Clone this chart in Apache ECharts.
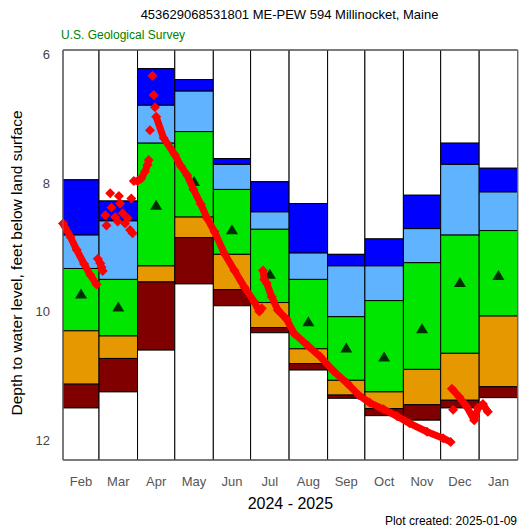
<!DOCTYPE html>
<html><head><meta charset="utf-8">
<script src="https://cdn.jsdelivr.net/npm/echarts/dist/echarts.min.js"></script>
<style>html,body{margin:0;padding:0;background:#fff}#c{width:519px;height:531px}</style>
</head><body><div id="c"></div><script>
// ---- data (depth to water level, feet below land surface) ----
const months     = ['Feb','Mar','Apr','May','Jun','Jul','Aug','Sep','Oct','Nov','Dec','Jan'];
const monthStart = ['2024-02-01','2024-03-01','2024-04-01','2024-05-01','2024-06-01','2024-07-01','2024-08-01','2024-09-01','2024-10-01','2024-11-01','2024-12-01','2025-01-01'];
const monthEnd   = ['2024-03-01','2024-04-01','2024-05-01','2024-06-01','2024-07-01','2024-08-01','2024-09-01','2024-10-01','2024-11-01','2024-12-01','2025-01-01','2025-02-01'];
const maxLevel   = [7.95, 8.28, 6.22, 6.39, 7.62, 7.98, 8.32, 9.11, 8.87, 8.19, 7.38, 7.77];
const pct90      = [8.81, 8.59, 6.79, 6.57, 7.71, 8.45, 9.09, 9.29, 9.29, 8.71, 7.71, 8.14];
const pct75      = [9.33, 9.50, 7.38, 7.20, 8.10, 8.72, 9.50, 10.08, 9.83, 9.24, 8.81, 8.74];
const pct25      = [10.30, 10.38, 9.29, 8.53, 9.11, 9.86, 10.58, 11.07, 11.25, 10.90, 10.65, 10.07];
const pct10      = [11.13, 10.73, 9.54, 8.85, 9.66, 10.25, 10.81, 11.30, 11.51, 11.45, 11.38, 11.17];
const minLevel   = [11.50, 11.25, 10.60, 9.57, 9.91, 10.33, 10.91, 11.35, 11.62, 11.69, 11.50, 11.34];
const medians    = [9.72, 9.92, 8.34, 7.97, 8.72, 9.41, 10.15, 10.56, 10.70, 10.26, 9.54, 9.43];
// daily values; null = gap in record
const waterLevel = [
  ['2024-02-01',8.63],['2024-02-07',8.84],['2024-02-12',9.04],['2024-02-18',9.26],['2024-02-23',9.43],['2024-02-28',9.58],
  ['2024-02-28',null],
  ['2024-02-29',9.18],['2024-03-02',9.25],['2024-03-03',9.31],['2024-03-04',9.37],
  ['2024-03-05',null],['2024-03-06',8.50],['2024-03-06',null],['2024-03-07',8.66],['2024-03-08',null],
  ['2024-03-10',8.16],['2024-03-10',null],['2024-03-11',8.38],['2024-03-12',null],['2024-03-14',8.53],['2024-03-15',null],
  ['2024-03-16',8.60],['2024-03-16',null],['2024-03-17',8.20],['2024-03-17',null],['2024-03-18',8.32],['2024-03-19',null],
  ['2024-03-20',8.47],['2024-03-21',null],['2024-03-22',8.63],['2024-03-23',null],['2024-03-24',8.55],['2024-03-25',null],
  ['2024-03-26',8.73],['2024-03-26',null],['2024-03-27',8.24],['2024-03-27',null],['2024-03-28',8.78],['2024-03-28',null],
  ['2024-03-29',7.97],['2024-04-01',7.97],['2024-04-04',7.93],['2024-04-07',7.82],['2024-04-09',7.72],['2024-04-10',7.64],
  ['2024-04-10',null],['2024-04-11',7.18],['2024-04-12',null],['2024-04-13',6.33],['2024-04-13',null],
  ['2024-04-14',6.63],['2024-04-14',null],['2024-04-15',6.82],['2024-04-15',null],
  ['2024-04-16',6.97],['2024-04-22',7.30],['2024-05-01',7.56],['2024-05-06',7.74],['2024-05-11',7.88],['2024-05-16',8.10],
  ['2024-05-22',8.33],['2024-05-27',8.55],['2024-06-02',8.76],['2024-06-10',9.10],['2024-06-18',9.36],['2024-06-26',9.62],
  ['2024-07-04',9.85],['2024-07-08',10.00],['2024-07-10',9.95],
  ['2024-07-10',null],
  ['2024-07-11',9.36],['2024-07-12',9.50],['2024-07-14',9.56],['2024-07-18',9.77],['2024-07-23',9.98],['2024-07-30',10.12],
  ['2024-08-05',10.34],['2024-08-16',10.53],['2024-08-26',10.70],['2024-09-06',10.93],['2024-09-17',11.12],['2024-09-26',11.30],
  ['2024-10-05',11.42],['2024-10-16',11.52],['2024-10-27',11.63],['2024-11-06',11.74],['2024-11-20',11.87],['2024-12-03',11.97],
  ['2024-12-09',12.03],
  ['2024-12-09',null],
  ['2024-12-10',11.20],['2024-12-16',11.33],['2024-12-22',11.48],['2024-12-28',11.69],['2024-12-31',11.50],['2025-01-04',11.44],
  ['2025-01-08',11.56],
  ['2025-01-08',null],['2024-12-11',11.53]
];
const yTicks = [6, 8, 10, 12];

// ---- build ----
const FONT = '"Liberation Sans", Arial, sans-serif';
const ts = s => new Date(s + 'T00:00:00').getTime();
const bandColors = ['#ffffff','#0000FF','#60B3FF','#00E600','#E69800','#800000','#ffffff'];

const boxData = months.map((m, i) => [ts(monthStart[i]), ts(monthEnd[i]), maxLevel[i], pct90[i], pct75[i], pct25[i], pct10[i], minLevel[i]]);
const medianData = months.map((m, i) => [(ts(monthStart[i]) + ts(monthEnd[i])) / 2, medians[i]]);
const levelData = waterLevel.map(([d, v]) => [ts(d), v == null ? '-' : v]);

function renderBox(params, api) {
  const cs = params.coordSys;
  const s = api.value(0), e = api.value(1);
  const x0 = api.coord([s, 8])[0], x1 = api.coord([e, 8])[0];
  const top = cs.y, bot = cs.y + cs.height;
  const edges = [top];
  for (let k = 2; k <= 7; k++) edges.push(api.coord([s, api.value(k)])[1]);
  edges.push(bot);
  const children = [];
  for (let k = 0; k < 7; k++) {
    children.push({
      type: 'rect',
      shape: { x: x0, y: edges[k], width: x1 - x0, height: edges[k + 1] - edges[k] },
      style: { fill: bandColors[k], stroke: '#000', lineWidth: 1 }
    });
  }
  children.push({
    type: 'text',
    style: { text: months[params.dataIndex], x: (x0 + x1) / 2, y: bot + 21, align: 'center', verticalAlign: 'middle',
             fontSize: 13, fontFamily: FONT, fill: '#555' }
  });
  return { type: 'group', children };
}

const chart = echarts.init(document.getElementById('c'), null, { renderer: 'svg' });
chart.setOption({
  animation: false,
  backgroundColor: '#fff',
  grid: { left: 61, right: 1.3, top: 50, bottom: 71, show: true, borderColor: '#777', borderWidth: 1, backgroundColor: 'transparent', z: 5 },
  xAxis: {
    type: 'time', min: ts('2024-02-01'), max: ts('2025-02-01'),
    axisLabel: { show: false }, axisTick: { show: false }, axisLine: { show: false }, splitLine: { show: false },
    name: '2024 - 2025', nameLocation: 'middle', nameGap: 35,
    nameTextStyle: { fontSize: 16, color: '#000', fontFamily: FONT }
  },
  yAxis: {
    type: 'value', inverse: true, min: 5.93, max: 12.31, splitNumber: 3, z: 10,
    name: 'Depth to water level, feet below land surface', nameLocation: 'middle', nameGap: 39,
    nameTextStyle: { fontSize: 15.5, color: '#000', fontFamily: FONT, padding: [0, 16, 0, 0] },
    axisLine: { show: false }, splitLine: { show: false },
    axisTick: { inside: true, length: 5, lineStyle: { color: '#666' } },
    axisLabel: { margin: 13, fontSize: 13, color: '#444', fontFamily: FONT,
      formatter: v => yTicks.some(t => Math.abs(t - v) < 1e-6) ? String(Math.round(v)) : '' }
  },
  graphic: [
    { type: 'text', x: 289.5, y: 14, style: { text: '453629068531801 ME-PEW 594 Millinocket, Maine', align: 'center', verticalAlign: 'middle', fontSize: 13, fontFamily: FONT, fill: '#000' } },
    { type: 'text', x: 61, y: 35, style: { text: 'U.S. Geological Survey', align: 'left', verticalAlign: 'middle', fontSize: 12, fontFamily: FONT, fill: '#008000' } },
    { type: 'text', x: 517, y: 521, style: { text: 'Plot created: 2025-01-09', align: 'right', verticalAlign: 'middle', fontSize: 12, fontFamily: FONT, fill: '#000' } }
  ],
  series: [
    { type: 'custom', renderItem: renderBox, data: boxData, encode: { x: [0, 1], y: [2, 3, 4, 5, 6, 7] }, z: 1, silent: true, clip: false },
    { type: 'scatter', data: medianData, symbol: 'triangle', symbolSize: [12, 10], itemStyle: { color: '#000' }, z: 3, silent: true },
    { type: 'line', data: levelData, symbol: 'diamond', symbolSize: 10, showSymbol: true, showAllSymbol: true, connectNulls: false,
      lineStyle: { color: '#FF0000', width: 7 }, itemStyle: { color: '#FF0000' }, z: 4, silent: true }
  ]
});
</script></body></html>
